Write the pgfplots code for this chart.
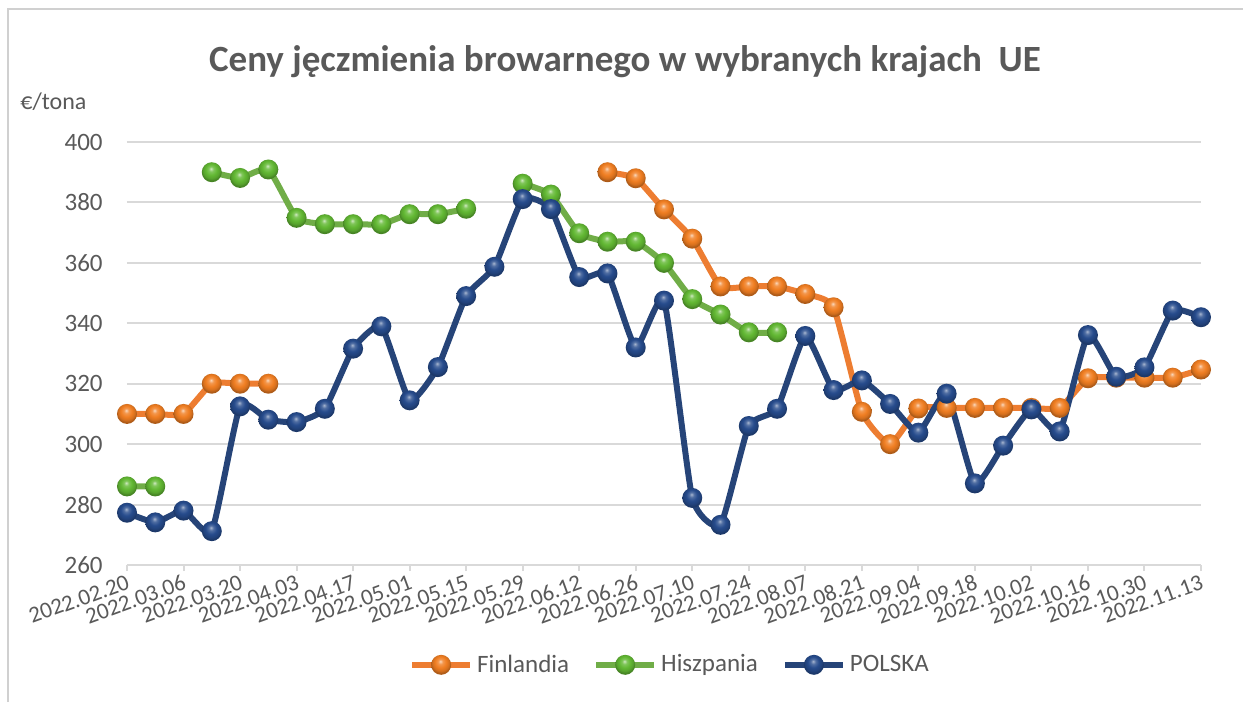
\documentclass[border=0pt]{standalone}
\usepackage{fontspec}
\setmainfont{Carlito}
\usepackage{pgfplots}
\usepackage{pgfplotstable}
\pgfplotsset{compat=1.18}
\definecolor{txt}{HTML}{595959}
\definecolor{gridc}{HTML}{D9D9D9}
\definecolor{forange}{HTML}{ED7D31}
\definecolor{fgreen}{HTML}{70AD47}
\definecolor{fblue}{HTML}{264478}
\definecolor{borderc}{HTML}{D0D0D0}
\definecolor{bo}{HTML}{F07E22}
\definecolor{bg}{HTML}{62B833}
\definecolor{bb}{HTML}{264B8C}

\pgfdeclareradialshading{oshade}{\pgfpoint{-2bp}{9bp}}{color(0bp)=(bo!30!white); color(6bp)=(bo!80!white); color(14bp)=(bo); color(21bp)=(bo!88!black); color(25bp)=(bo!72!black); color(50bp)=(bo!72!black)}
\pgfdeclareradialshading{gshade}{\pgfpoint{-2bp}{9bp}}{color(0bp)=(bg!30!white); color(6bp)=(bg!80!white); color(14bp)=(bg); color(21bp)=(bg!88!black); color(25bp)=(bg!72!black); color(50bp)=(bg!72!black)}
\pgfdeclareradialshading{bshade}{\pgfpoint{-2bp}{9bp}}{color(0bp)=(bb!40!white); color(6bp)=(bb!80!white); color(14bp)=(bb); color(21bp)=(bb!88!black); color(25bp)=(bb!75!black); color(50bp)=(bb!75!black)}
\pgfdeclareplotmark{oball}{\pgfpathcircle{\pgfpointorigin}{\pgfplotmarksize}\pgfshadepath{oshade}{0}\pgfusepath{discard}}
\pgfdeclareplotmark{gball}{\pgfpathcircle{\pgfpointorigin}{\pgfplotmarksize}\pgfshadepath{gshade}{0}\pgfusepath{discard}}
\pgfdeclareplotmark{bball}{\pgfpathcircle{\pgfpointorigin}{\pgfplotmarksize}\pgfshadepath{bshade}{0}\pgfusepath{discard}}

\pgfplotstableread{
idx fin his pol
0 310 286 277.3
1 310 286 274.1
2 310 nan 278
3 320 390 271.2
4 320 388.1 312.5
5 320 390.9 308.1
6 nan 374.9 307.3
7 nan 372.8 311.7
8 nan 372.8 331.6
9 nan 372.8 339
10 nan 376.1 314.5
11 nan 376.1 325.5
12 nan 377.9 349
13 nan nan 358.7
14 nan 386.2 381.1
15 nan 382.6 377.8
16 nan 369.8 355.3
17 390 367 356.5
18 388 367 332
19 377.7 360 347.5
20 368 348 282.2
21 352.2 342.9 273.3
22 352.2 337 306
23 352.2 337 311.7
24 349.7 nan 335.8
25 345.3 nan 317.9
26 310.7 nan 321.1
27 300 nan 313.3
28 311.8 nan 303.8
29 312 nan 316.7
30 312 nan 287
31 312 nan 299.5
32 312 nan 311.5
33 312 nan 304.2
34 321.8 nan 336.1
35 322 nan 322.3
36 322 nan 325.4
37 322 nan 344.2
38 324.7 nan 342
}\datatable

\begin{document}
\begin{tikzpicture}
\path[use as bounding box] (0,0) rectangle (621.5pt,351pt);
\draw[color=borderc, line width=1.2pt] (4pt,0) -- (4pt,346.5pt) -- (621.5pt,346.5pt);
\node[font=\fontsize{18.5}{21}\selectfont\bfseries, text=txt] at (312.5pt,320pt) {Ceny jęczmienia browarnego w wybranych krajach\ \ UE};
\node[anchor=west, font=\fontsize{12}{14}\selectfont, text=txt, inner sep=0pt] at (10pt,300pt) {€/tona};
\begin{axis}[
  at={(63.5pt,68.5pt)}, anchor=south west,
  scale only axis, width=537pt, height=211.5pt,
  xmin=0, xmax=38, ymin=260, ymax=400,
  clip=false,
  axis x line*=bottom, axis y line*=left,
  y axis line style={draw=none},
  x axis line style={draw=gridc, line width=1pt},
  ytick={260,280,...,400},
  xtick={0,2,...,38},
  xticklabels={2022.02.20,2022.03.06,2022.03.20,2022.04.03,2022.04.17,2022.05.01,2022.05.15,2022.05.29,2022.06.12,2022.06.26,2022.07.10,2022.07.24,2022.08.07,2022.08.21,2022.09.04,2022.09.18,2022.10.02,2022.10.16,2022.10.30,2022.11.13},
  ymajorgrids, grid style={draw=gridc, line width=1pt},
  ytick style={draw=none},
  xtick style={draw=gridc, line width=1pt},
  tick align=outside, major tick length=3pt,
  yticklabel style={font=\fontsize{12.5}{14}\selectfont, text=txt, inner sep=0pt, xshift=-9pt},
  xticklabel style={font=\fontsize{11.5}{13}\selectfont, text=txt, rotate=20, anchor=north east, inner sep=1pt},
  /pgf/number format/assume math mode=true,
  unbounded coords=jump,
  legend style={at={(0.5065,-0.236)}, anchor=center, draw=none, fill=none,
    legend columns=3, font=\fontsize{12.5}{14}\selectfont, text=txt,
    /tikz/every even column/.append style={column sep=10pt}},
  legend image code/.code={\draw[mark repeat=2,mark phase=2] plot coordinates {(0pt,0pt) (14.5pt,0pt) (29pt,0pt)};},
  every axis plot/.append style={line width=3pt, line join=round, smooth, tension=0.3, mark size=5pt},
]
\addplot[color=forange, mark=oball] table[x=idx, y=fin] {\datatable};
\addlegendentry{Finlandia}
\addplot[color=fgreen, mark=gball] table[x=idx, y=his] {\datatable};
\addlegendentry{Hiszpania}
\addplot[color=fblue, mark=bball] table[x=idx, y=pol] {\datatable};
\addlegendentry{POLSKA}
\end{axis}
\end{tikzpicture}
\end{document}
